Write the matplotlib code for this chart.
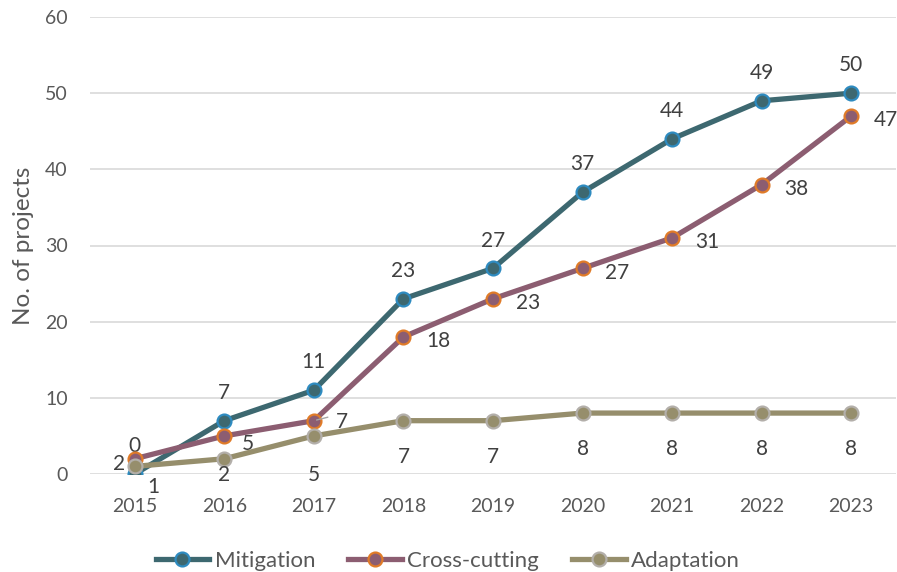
import matplotlib.pyplot as plt

years = ['2015', '2016', '2017', '2018', '2019', '2020', '2021', '2022', '2023']
mitigation = [0, 7, 11, 23, 27, 37, 44, 49, 50]
cross_cutting = [2, 5, 7, 18, 23, 27, 31, 38, 47]
adaptation = [1, 2, 5, 7, 7, 8, 8, 8, 8]

plt.rcParams['font.family'] = ['Lato', 'DejaVu Sans']
txt = '#595959'

fig = plt.figure(figsize=(8.97, 5.72), dpi=100)
ax = fig.add_axes([90 / 897, 1 - 474 / 572, 806 / 897, 457 / 572])
x = list(range(len(years)))

series = [
    ('Mitigation', mitigation, '#3d6870', '#2e8bc0', (0, 20)),
    ('Cross-cutting', cross_cutting, '#8c5d71', '#e07b28', (25, -3)),
    ('Adaptation', adaptation, '#968e6c', '#b3afaa', (0, -26)),
]
# a few labels Excel moved away from the default spot
special = {
    ('Cross-cutting', 0): (-11, -4),
    ('Cross-cutting', 1): (17, -6),
    ('Cross-cutting', 2): (20, -1),
    ('Adaptation', 0): (13, -15),
    ('Adaptation', 1): (0, -12),
    ('Adaptation', 2): (0, -28),
}
for name, vals, col, edge, off in series:
    ax.plot(x, vals, color=col, lw=3.8, marker='o', ms=10,
            mfc=col, mec=edge, mew=1.6, label=name, zorder=3)
    for i, v in enumerate(vals):
        dx, dy = special.get((name, i), off)
        ax.annotate(str(v), (i, v), xytext=(dx, dy), textcoords='offset points',
                    ha='center', va='center', fontsize=15, color='#404040')

# small leader line next to the 2017 cross-cutting label
ax.annotate('', (2, 7), xytext=(12, 3), textcoords='offset points',
            arrowprops=dict(arrowstyle='-', color='#a6a6a6', lw=1))

ax.set_xlim(-0.5, len(years) - 0.5)
ax.set_ylim(0, 60)
ax.set_yticks(range(0, 61, 10))
ax.set_xticks(x)
ax.set_xticklabels(years)
ax.grid(axis='y', color='#d9d9d9', lw=1.2)
ax.set_axisbelow(True)
for s in ax.spines.values():
    s.set_visible(False)
ax.tick_params(length=0, labelsize=14, colors=txt)
ax.tick_params(axis='x', pad=17)
ax.tick_params(axis='y', pad=16)
ax.set_ylabel('No. of projects', fontsize=17.5, color=txt, labelpad=8)

ax.legend(loc='upper center', bbox_to_anchor=(0.5 - 45 / 806, -0.125), ncol=3,
          frameon=False, fontsize=16, labelcolor=txt, handlelength=2.4,
          columnspacing=1.5, handletextpad=0.25)

fig.savefig('out.png', dpi=100)
